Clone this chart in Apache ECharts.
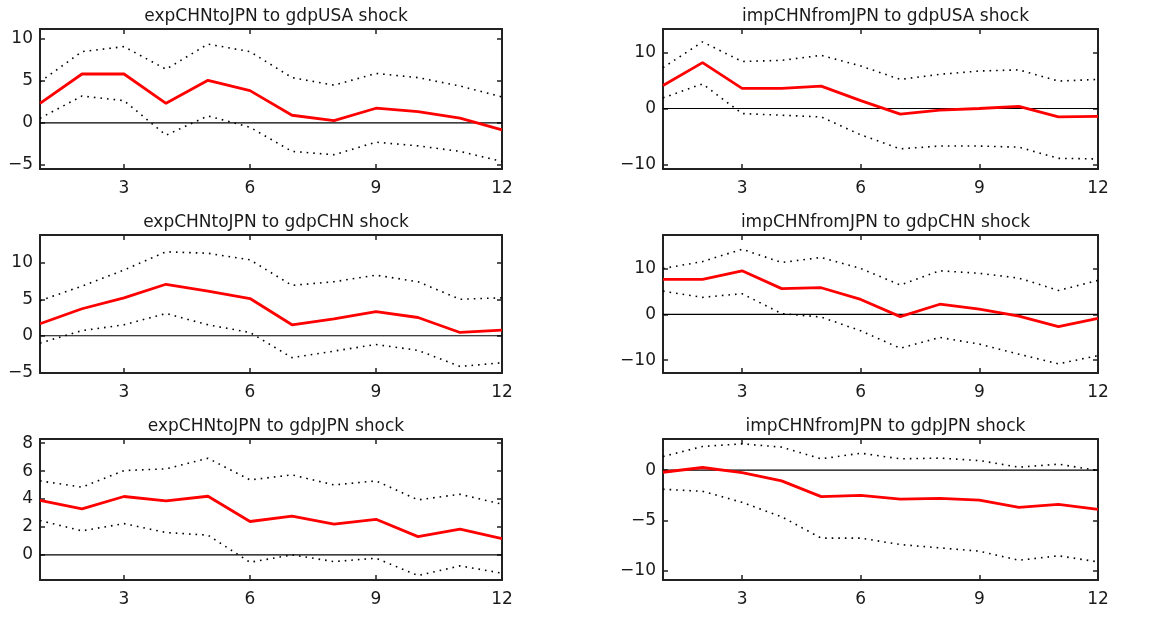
<!DOCTYPE html>
<html>
<head>
<meta charset="utf-8">
<script src="https://cdn.jsdelivr.net/npm/echarts@6/dist/echarts.min.js"></script>
<style>
  html, body { margin: 0; padding: 0; background: #ffffff; }
  #chart { width: 1164px; height: 618px; }
</style>
</head>
<body>
<div id="chart"></div>
<script>
// Forecast horizon (periods after the shock)
const periods = [1, 2, 3, 4, 5, 6, 7, 8, 9, 10, 11, 12];
const xTicks = [3, 6, 9, 12];

// expCHNtoJPN to gdpUSA shock
const expUsaIrf   = [2.34, 5.83, 5.83, 2.34, 5.08, 3.85, 0.91, 0.28, 1.75, 1.35, 0.56, -0.83];
const expUsaUpper = [4.9, 8.5, 9.1, 6.4, 9.4, 8.5, 5.4, 4.5, 5.9, 5.4, 4.4, 3.1];
const expUsaLower = [0.56, 3.2, 2.66, -1.47, 0.83, -0.52, -3.4, -3.8, -2.3, -2.74, -3.4, -4.6];
const expUsaTicks = [-5, 0, 5, 10];

// impCHNfromJPN to gdpUSA shock
const impUsaIrf   = [4.1, 8.2, 3.6, 3.6, 4.0, 1.4, -1.0, -0.3, 0.0, 0.4, -1.5, -1.4];
const impUsaUpper = [7.3, 11.9, 8.4, 8.6, 9.5, 7.6, 5.2, 6.1, 6.7, 6.9, 4.9, 5.2];
const impUsaLower = [1.9, 4.4, -0.9, -1.2, -1.5, -4.7, -7.2, -6.7, -6.7, -6.9, -8.9, -9.0];
const impUsaTicks = [-10, 0, 10];

// expCHNtoJPN to gdpCHN shock
const expChnIrf   = [1.64, 3.7, 5.2, 7.05, 6.1, 5.1, 1.5, 2.3, 3.3, 2.5, 0.45, 0.77];
const expChnUpper = [4.8, 6.8, 9.0, 11.5, 11.3, 10.4, 6.9, 7.4, 8.3, 7.4, 5.0, 5.2];
const expChnLower = [-1.0, 0.7, 1.5, 3.05, 1.5, 0.45, -3.0, -2.1, -1.2, -2.0, -4.2, -3.7];
const expChnTicks = [-5, 0, 5, 10];

// impCHNfromJPN to gdpCHN shock
const impChnIrf   = [7.6, 7.6, 9.5, 5.6, 5.8, 3.25, -0.5, 2.2, 1.15, -0.4, -2.7, -0.9];
const impChnUpper = [10.0, 11.5, 14.2, 11.3, 12.4, 10.0, 6.4, 9.5, 8.95, 7.9, 5.2, 7.4];
const impChnLower = [5.05, 3.7, 4.5, 0.15, -0.6, -3.6, -7.4, -5.05, -6.5, -8.7, -10.8, -9.0];
const impChnTicks = [-10, 0, 10];

// expCHNtoJPN to gdpJPN shock
const expJpnIrf   = [3.9, 3.3, 4.18, 3.87, 4.2, 2.39, 2.77, 2.2, 2.55, 1.31, 1.84, 1.17];
const expJpnUpper = [5.3, 4.85, 6.04, 6.16, 6.92, 5.37, 5.73, 5.01, 5.3, 3.94, 4.34, 3.63];
const expJpnLower = [2.46, 1.72, 2.24, 1.6, 1.41, -0.53, 0.0, -0.48, -0.24, -1.48, -0.79, -1.31];
const expJpnTicks = [0, 2, 4, 6, 8];

// impCHNfromJPN to gdpJPN shock
const impJpnIrf   = [-0.2, 0.27, -0.23, -1.06, -2.62, -2.49, -2.86, -2.79, -2.96, -3.69, -3.39, -3.89];
const impJpnUpper = [1.36, 2.36, 2.62, 2.29, 1.13, 1.69, 1.13, 1.2, 0.96, 0.3, 0.6, -0.03];
const impJpnLower = [-1.89, -2.09, -3.19, -4.62, -6.74, -6.74, -7.38, -7.71, -8.04, -8.94, -8.5, -9.1];
const impJpnTicks = [-10, -5, 0];

const panelTitles = [
  'expCHNtoJPN to gdpUSA shock', 'impCHNfromJPN to gdpUSA shock',
  'expCHNtoJPN to gdpCHN shock', 'impCHNfromJPN to gdpCHN shock',
  'expCHNtoJPN to gdpJPN shock', 'impCHNfromJPN to gdpJPN shock'
];

const panels = [
  { irf: expUsaIrf, upper: expUsaUpper, lower: expUsaLower, ticks: expUsaTicks, yMin: -5.5, yMax: 11.2 },
  { irf: impUsaIrf, upper: impUsaUpper, lower: impUsaLower, ticks: impUsaTicks, yMin: -10.8, yMax: 14.2 },
  { irf: expChnIrf, upper: expChnUpper, lower: expChnLower, ticks: expChnTicks, yMin: -5.1, yMax: 13.8 },
  { irf: impChnIrf, upper: impChnUpper, lower: impChnLower, ticks: impChnTicks, yMin: -12.8, yMax: 17.3 },
  { irf: expJpnIrf, upper: expJpnUpper, lower: expJpnLower, ticks: expJpnTicks, yMin: -1.8, yMax: 8.3 },
  { irf: impJpnIrf, upper: impJpnUpper, lower: impJpnLower, ticks: impJpnTicks, yMin: -10.9, yMax: 3.1 }
];

// Plot-box geometry (pixels)
const colLeft = [40, 663];
const colWidth = [462, 435];
const rowTop = [29, 235, 439];
const rowHeight = [140, 138, 141];

const FONT = '"DejaVu Sans", "Liberation Sans", sans-serif';
const INK = '#1a1a1a';
const minus = v => String(v).replace('-', '\u2212');

const grids = [], xAxes = [], yAxes = [], series = [], titles = [];
const pairs = arr => periods.map((p, i) => [p, arr[i]]);

panels.forEach((pn, k) => {
  const col = k % 2, row = Math.floor(k / 2);
  grids.push({ left: colLeft[col], top: rowTop[row], width: colWidth[col], height: rowHeight[row] });
  titles.push({
    text: panelTitles[k],
    left: colLeft[col] + colWidth[col] / 2,
    top: rowTop[row] - 26,
    textAlign: 'center',
    textStyle: { fontFamily: FONT, fontSize: 17, fontWeight: 'normal', color: INK }
  });
  const axisLine = { show: true, onZero: false, lineStyle: { color: '#222', width: 2 } };
  const tickStyle = { color: '#222', width: 1.5 };
  const xBase = { type: 'value', gridIndex: k, min: 1, max: 12, splitLine: { show: false }, axisLine };
  xAxes.push(Object.assign({}, xBase, {
    position: 'bottom',
    axisTick: { inside: true, length: 5, customValues: xTicks, lineStyle: tickStyle },
    axisLabel: { customValues: xTicks, margin: 11, fontFamily: FONT, fontSize: 17, color: INK }
  }));
  xAxes.push(Object.assign({}, xBase, {
    position: 'top',
    axisTick: { inside: true, length: 5, customValues: xTicks, lineStyle: tickStyle },
    axisLabel: { show: false }
  }));
  const yBase = { type: 'value', gridIndex: k, min: pn.yMin, max: pn.yMax, splitLine: { show: false }, axisLine };
  yAxes.push(Object.assign({}, yBase, {
    position: 'left',
    axisTick: { inside: true, length: 5, customValues: pn.ticks, lineStyle: tickStyle },
    axisLabel: { customValues: pn.ticks, margin: 7, formatter: minus, fontFamily: FONT, fontSize: 17, color: INK }
  }));
  yAxes.push(Object.assign({}, yBase, {
    position: 'right',
    axisTick: { inside: true, length: 5, customValues: pn.ticks, lineStyle: tickStyle },
    axisLabel: { show: false }
  }));
  const xi = 2 * k, yi = 2 * k;
  // zero reference line
  series.push({
    type: 'line', xAxisIndex: xi, yAxisIndex: yi, silent: true, symbol: 'none',
    data: [[1, 0], [12, 0]], lineStyle: { color: '#000', width: 1.2 }, z: 1
  });
  // confidence bands
  [pn.upper, pn.lower].forEach(band => {
    series.push({
      type: 'line', xAxisIndex: xi, yAxisIndex: yi, silent: true, symbol: 'none',
      data: pairs(band), lineStyle: { color: '#000', width: 1.6, type: [1.6, 5] }, z: 2
    });
  });
  // impulse response
  series.push({
    type: 'line', xAxisIndex: xi, yAxisIndex: yi, silent: true, symbol: 'none',
    data: pairs(pn.irf), lineStyle: { color: '#ff0000', width: 2.8 }, z: 3
  });
});

const chart = echarts.init(document.getElementById('chart'), null, { renderer: 'canvas' });
chart.setOption({
  animation: false,
  backgroundColor: '#ffffff',
  title: titles,
  grid: grids,
  xAxis: xAxes,
  yAxis: yAxes,
  series: series
});
</script>
</body>
</html>
